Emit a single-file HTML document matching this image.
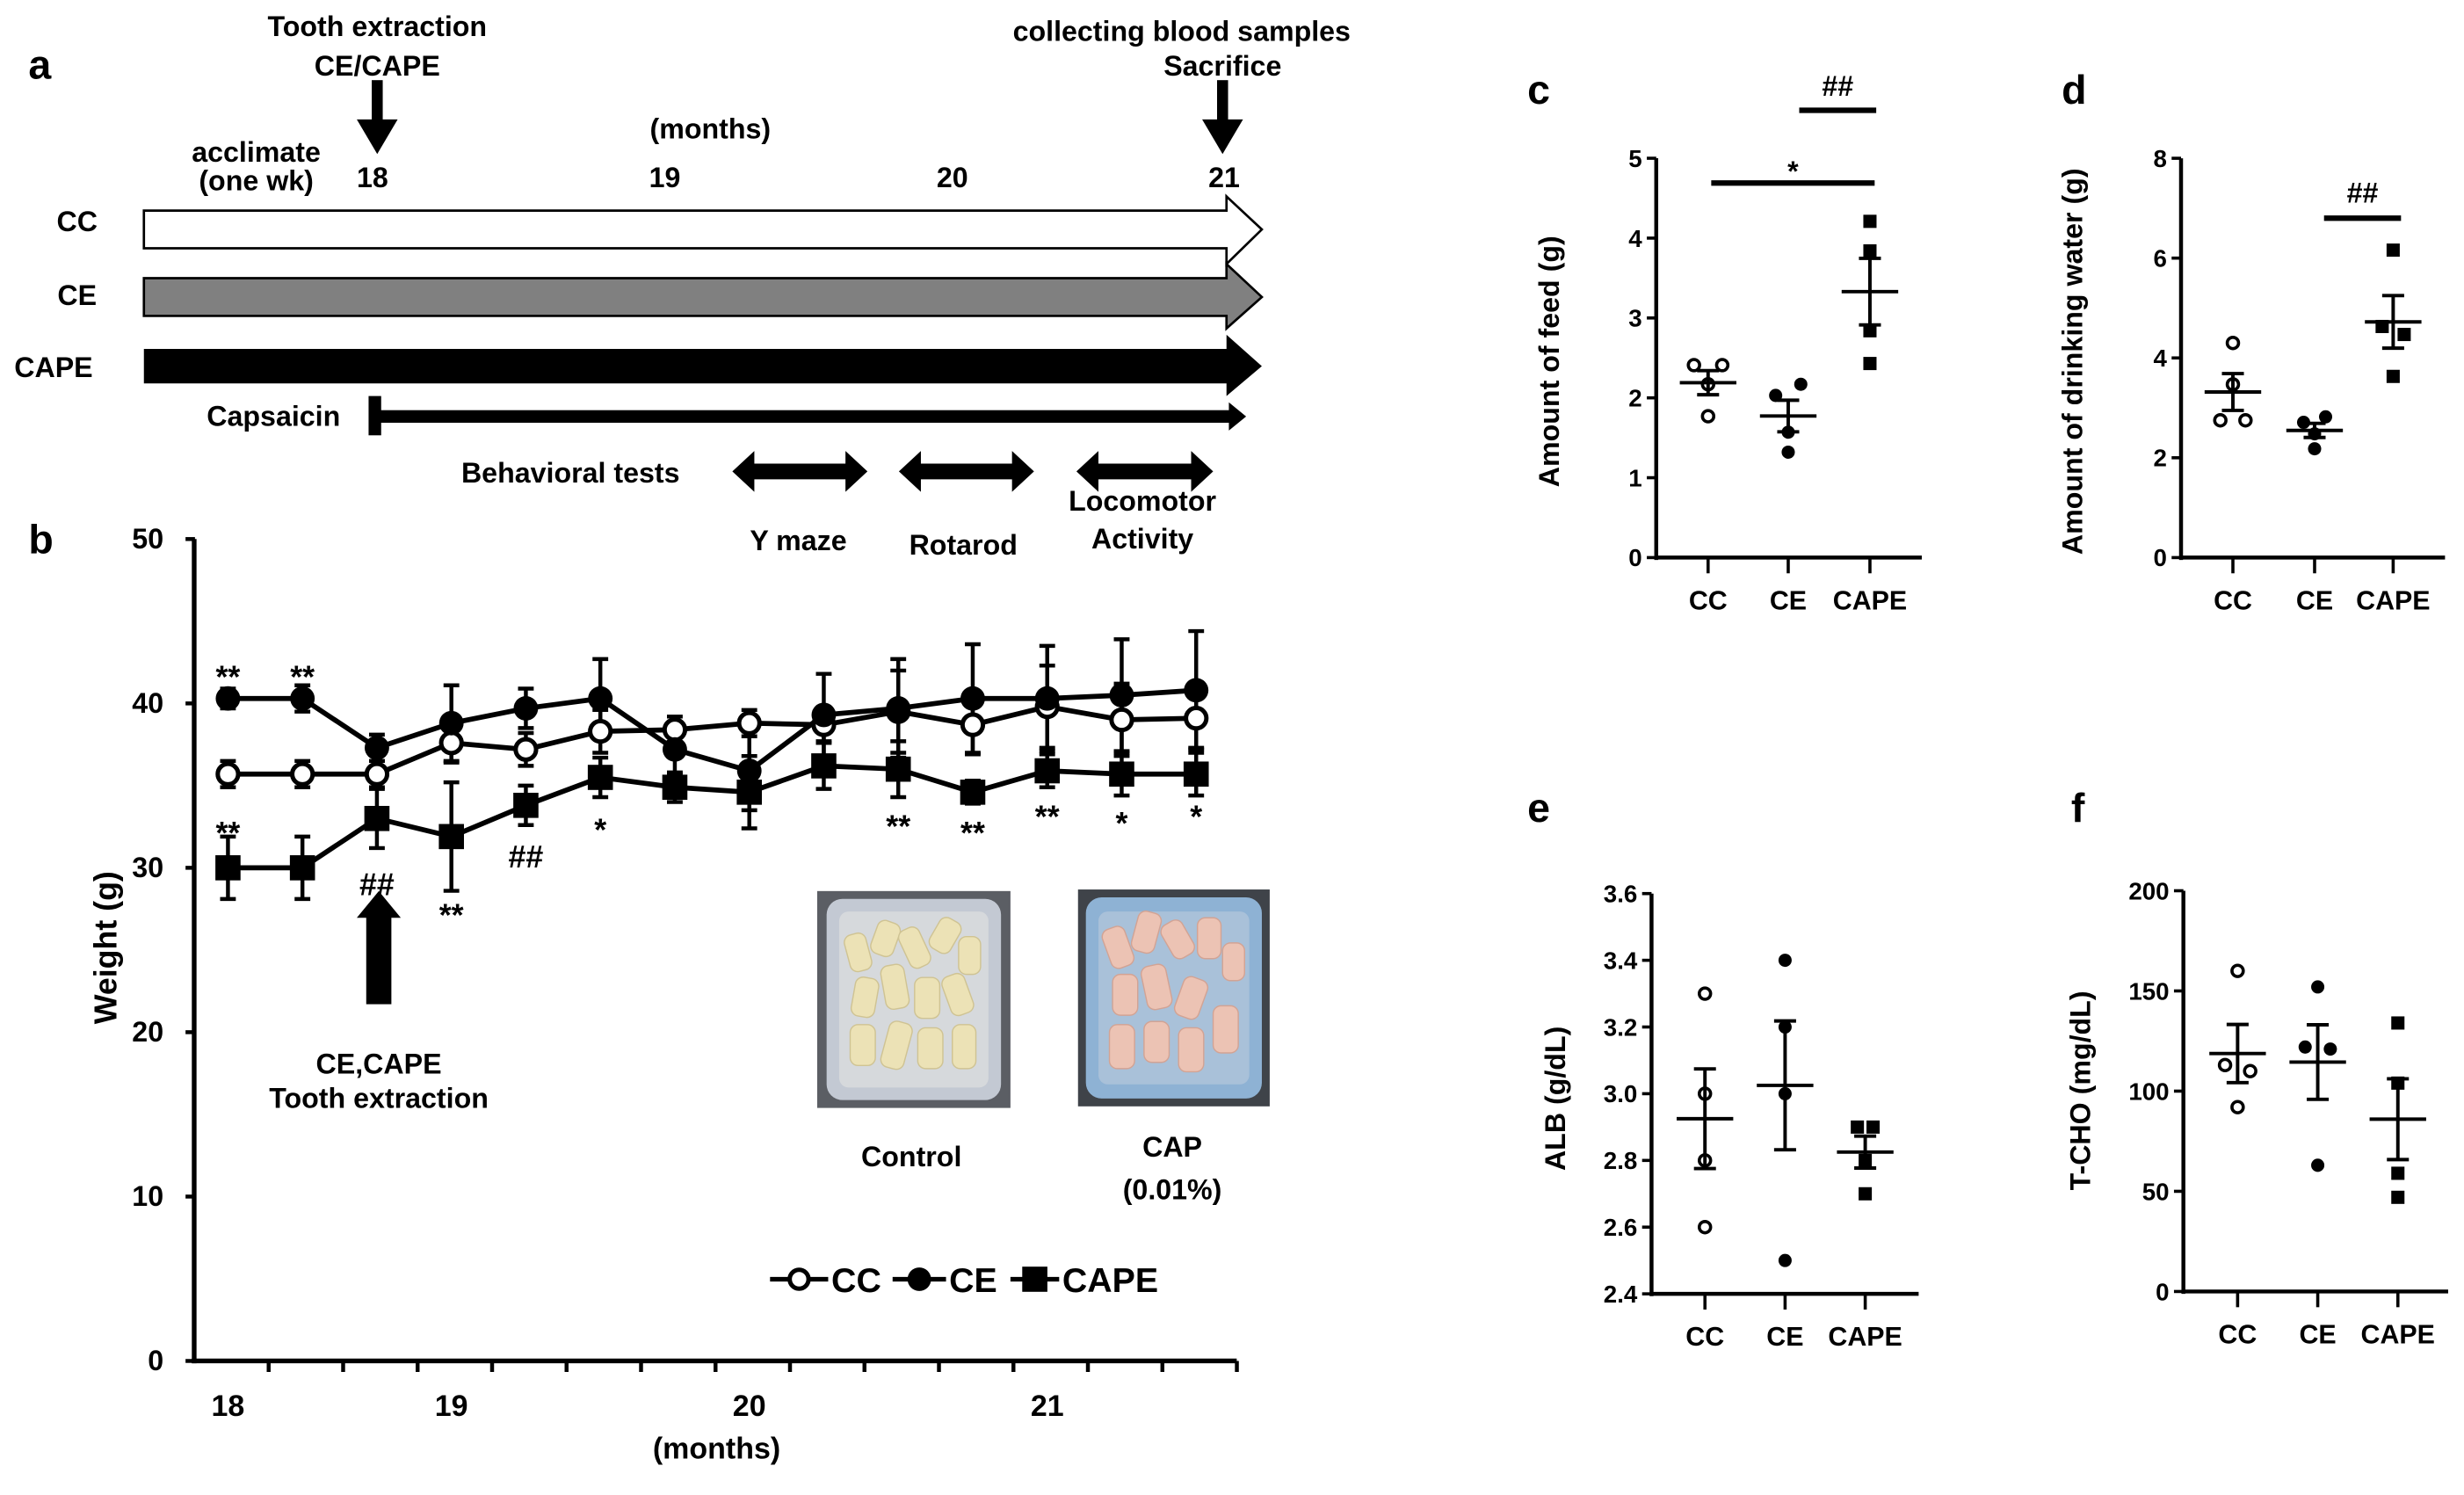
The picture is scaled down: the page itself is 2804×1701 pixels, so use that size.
<!DOCTYPE html>
<html><head><meta charset="utf-8"><style>
html,body{margin:0;padding:0;background:#fff;}
svg{display:block;font-family:"Liberation Sans",Arial,sans-serif;font-weight:bold;}
</style></head><body>
<svg id="fig" xmlns="http://www.w3.org/2000/svg" width="2804" height="1701" viewBox="0 0 1568 951.3">
<rect x="0" y="0" width="1568" height="951.3" fill="#fff"/>
<!-- Panel a -->
<g>
<text x="18" y="50" font-size="26">a</text>
<text x="240" y="23" font-size="18" text-anchor="middle">Tooth extraction</text>
<text x="240" y="48" font-size="18" text-anchor="middle">CE/CAPE</text>
<rect x="236.5" y="51" width="7" height="26" fill="#000"/>
<polygon points="227,76 253,76 240,98" fill="#000"/>
<text x="752" y="26" font-size="18" text-anchor="middle">collecting blood samples</text>
<text x="778" y="48" font-size="18" text-anchor="middle">Sacrifice</text>
<rect x="774.5" y="51" width="7" height="26" fill="#000"/>
<polygon points="765,76 791,76 778,98" fill="#000"/>
<text x="452" y="88" font-size="18" text-anchor="middle">(months)</text>
<text x="163" y="103" font-size="18" text-anchor="middle">acclimate</text>
<text x="163" y="121" font-size="18" text-anchor="middle">(one wk)</text>
<text x="237" y="119" font-size="18" text-anchor="middle">18</text>
<text x="423" y="119" font-size="18" text-anchor="middle">19</text>
<text x="606" y="119" font-size="18" text-anchor="middle">20</text>
<text x="779" y="119" font-size="18" text-anchor="middle">21</text>
<text x="49" y="147" font-size="18" text-anchor="middle">CC</text>
<text x="49" y="194" font-size="18" text-anchor="middle">CE</text>
<text x="34" y="240" font-size="18" text-anchor="middle">CAPE</text>
<polygon points="91.5,134 780.5,134 780.5,125 803,146 780.5,168 780.5,158 91.5,158" fill="#fff" stroke="#000" stroke-width="1.5"/>
<polygon points="91.5,177 780.5,177 780.5,168 803,189 780.5,209 780.5,201 91.5,201" fill="#808080" stroke="#000" stroke-width="1.5"/>
<polygon points="91.5,222 780.5,222 780.5,213 803,233 780.5,252 780.5,244 91.5,244" fill="#000"/>
<text x="174" y="271" font-size="18" text-anchor="middle">Capsaicin</text>
<rect x="234.5" y="252" width="8" height="25" fill="#000"/>
<rect x="240" y="261" width="544" height="8" fill="#000"/>
<polygon points="782,256 793,265 782,274" fill="#000"/>
<text x="363" y="307" font-size="18" text-anchor="middle">Behavioral tests</text>
<g><polygon points="466,300 480,287 480,295 538,295 538,287 552,300 538,313 538,305 480,305 480,313" fill="#000"/></g>
<g><polygon points="572,300 586,287 586,295 644,295 644,287 658,300 644,313 644,305 586,305 586,313" fill="#000"/></g>
<g><polygon points="685,300 699,287 699,295 758,295 758,287 772,300 758,313 758,305 699,305 699,313" fill="#000"/></g>
<text x="508" y="350" font-size="18" text-anchor="middle">Y maze</text>
<text x="613" y="353" font-size="18" text-anchor="middle">Rotarod</text>
<text x="727" y="325" font-size="18" text-anchor="middle">Locomotor</text>
<text x="727" y="349" font-size="18" text-anchor="middle">Activity</text>
</g>
<!-- Panel b static -->
<g id="pb">
<text x="18" y="352" font-size="26">b</text>
<text transform="translate(74,603) rotate(-90)" font-size="20" text-anchor="middle">Weight (g)</text>
<text x="456" y="928" font-size="19" text-anchor="middle">(months)</text>
<rect x="233" y="582" width="16" height="57" fill="#000"/>
<polygon points="227,584 255,584 241,567" fill="#000"/>
<text x="241" y="683" font-size="18" text-anchor="middle">CE,CAPE</text>
<text x="241" y="705" font-size="18" text-anchor="middle">Tooth extraction</text>
<g>
<rect x="520" y="567" width="123" height="138" fill="#5b5e64"/>
<rect x="526" y="572" width="111" height="128" rx="10" fill="#c3c9d3"/>
<rect x="534" y="580" width="95" height="112" rx="6" fill="#d6d9dc"/>
<g fill="#ece2b6" stroke="#cfc393" stroke-width="0.8">
<rect x="539" y="594" width="14" height="24" rx="5" transform="rotate(-15 546 606)"/>
<rect x="556" y="586" width="15" height="22" rx="5" transform="rotate(20 563 597)"/>
<rect x="575" y="590" width="14" height="26" rx="5" transform="rotate(-25 582 603)"/>
<rect x="594" y="584" width="15" height="22" rx="5" transform="rotate(30 601 595)"/>
<rect x="610" y="596" width="14" height="24" rx="5"/>
<rect x="543" y="622" width="15" height="25" rx="5" transform="rotate(10 550 634)"/>
<rect x="562" y="614" width="15" height="28" rx="5" transform="rotate(-10 569 628)"/>
<rect x="582" y="622" width="16" height="26" rx="5"/>
<rect x="602" y="620" width="15" height="26" rx="5" transform="rotate(-20 609 633)"/>
<rect x="541" y="652" width="16" height="26" rx="5"/>
<rect x="563" y="650" width="15" height="30" rx="5" transform="rotate(15 570 665)"/>
<rect x="584" y="654" width="16" height="26" rx="5"/>
<rect x="606" y="652" width="15" height="28" rx="5"/>
</g></g>
<g>
<rect x="686" y="566" width="122" height="138" fill="#3f4349"/>
<rect x="691" y="571" width="112" height="128" rx="10" fill="#8eb2d4"/>
<rect x="699" y="580" width="96" height="110" rx="6" fill="#a9c1d9"/>
<g fill="#ecc3b4" stroke="#d2a394" stroke-width="0.8">
<rect x="704" y="590" width="15" height="26" rx="5" transform="rotate(-20 711 603)"/>
<rect x="722" y="580" width="15" height="26" rx="5" transform="rotate(15 729 593)"/>
<rect x="742" y="586" width="15" height="24" rx="5" transform="rotate(-30 749 598)"/>
<rect x="762" y="584" width="15" height="26" rx="5"/>
<rect x="778" y="600" width="14" height="24" rx="5"/>
<rect x="708" y="620" width="16" height="26" rx="5"/>
<rect x="728" y="614" width="16" height="28" rx="5" transform="rotate(-12 736 628)"/>
<rect x="750" y="622" width="16" height="26" rx="5" transform="rotate(20 758 635)"/>
<rect x="706" y="652" width="16" height="28" rx="5"/>
<rect x="728" y="650" width="16" height="26" rx="5"/>
<rect x="750" y="654" width="16" height="28" rx="5"/>
<rect x="772" y="640" width="16" height="30" rx="5"/>
</g></g>
<text x="580" y="742" font-size="18" text-anchor="middle">Control</text>
<text x="746" y="736" font-size="18" text-anchor="middle">CAP</text>
<text x="746" y="763" font-size="18" text-anchor="middle">(0.01%)</text>
</g>
<g id="pc"></g>
<g id="pd"></g>
<g id="pe"></g>
<g id="pf"></g>
</svg>
<script>
// ---------- Panel b data ----------
const weightTickLabels = ['18', '19', '20', '21'];
const weightTickIndex = [0, 3, 7, 11];
const weightYTicks = [0, 10, 20, 30, 40, 50];
const ccWeight = [35.7, 35.7, 35.7, 37.6, 37.2, 38.3, 38.4, 38.8, 38.7, 39.5, 38.7, 39.8, 39.0, 39.1];
const ceWeight = [40.3, 40.3, 37.3, 38.8, 39.7, 40.3, 37.2, 35.9, 39.3, 39.7, 40.3, 40.3, 40.5, 40.8];
const capeWeight = [30.0, 30.0, 33.0, 31.9, 33.8, 35.5, 34.9, 34.6, 36.2, 36.0, 34.6, 35.9, 35.7, 35.7];
const ccErr = [0.8, 0.8, 0.8, 1.2, 1.0, 1.3, 0.8, 0.8, 1.0, 2.5, 1.8, 2.5, 2.2, 1.8];
const ceErr = [0.6, 0.8, 0.8, 2.3, 1.2, 2.4, 1.5, 2.4, 2.5, 3.0, 3.3, 3.2, 3.4, 3.6];
const capeErr = [1.9, 1.9, 1.8, 3.3, 1.2, 1.2, 0.9, 2.2, 1.4, 1.7, 0.7, 1.0, 1.3, 1.3];
const weightMarkText = ['**', '**', '**', '##', '**', '##', '*', '**', '**', '**', '*', '*'];
const weightMarkIndex = [0, 1, 0, 2, 3, 4, 5, 9, 10, 11, 12, 13];
const weightMarkValue = [42.1, 42.1, 32.6, 29.0, 27.6, 30.7, 32.8, 33.0, 32.6, 33.6, 33.2, 33.6];

// ---------- Panels c-f data ----------
const groupLabels = ['CC', 'CE', 'CAPE'];
const feedCC = [2.41, 2.41, 2.17, 1.77];
const feedCE = [2.03, 2.17, 1.57, 1.32];
const feedCAPE = [4.21, 3.84, 2.84, 2.43];
const feedTicks = [0, 1, 2, 3, 4, 5];
const waterCC = [4.30, 3.47, 2.75, 2.75];
const waterCE = [2.71, 2.82, 2.48, 2.18];
const waterCAPE = [6.16, 4.63, 4.47, 3.63];
const waterTicks = [0, 2, 4, 6, 8];
const albCC = [3.3, 3.0, 2.8, 2.6];
const albCE = [3.4, 3.2, 3.0, 2.5];
const albCAPE = [2.9, 2.9, 2.8, 2.7];
const albTicks = [2.4, 2.6, 2.8, 3.0, 3.2, 3.4, 3.6];
const tchoCC = [160, 113, 110, 92];
const tchoCE = [152, 122, 121, 63];
const tchoCAPE = [134, 104, 59, 47];
const tchoTicks = [0, 50, 100, 150, 200];

const NS = 'http://www.w3.org/2000/svg';
function mk(tag, attrs, parent) {
  const el = document.createElementNS(NS, tag);
  for (const k in attrs) el.setAttribute(k, attrs[k]);
  parent.appendChild(el);
  return el;
}

// ---------- Panel b drawing ----------
(function () {
  const g = document.getElementById('pb');
  const xB = i => 145 + 47.4 * i;
  const yB = v => 866 - v * 10.46;
  let el = mk('line', {x1: 123.5, y1: yB(50), x2: 123.5, y2: yB(0) + 1.5, stroke: '#000', 'stroke-width': 3}, g);
  
  
  el = mk('line', {x1: 122, y1: yB(0), x2: 787, y2: yB(0), stroke: '#000', 'stroke-width': 3}, g);
  
  
  weightYTicks.forEach(v => {
    const t = mk('line', {x1: 118, y1: yB(v), x2: 124, y2: yB(v), stroke: '#000', 'stroke-width': 2.5}, g);
    
    
    const l = mk('text', {x: 104, y: yB(v) + 6, 'font-size': 18, 'text-anchor': 'end'}, g);
    l.textContent = v;
    
    
  });
  for (let k = 1; k <= 14; k++) {
    const x = 123.5 + 47.4 * k;
    const t = mk('line', {x1: x, y1: yB(0), x2: x, y2: yB(0) + 7, stroke: '#000', 'stroke-width': 2.5}, g);
    
    
  }
  weightTickLabels.forEach((lab, j) => {
    const l = mk('text', {x: xB(weightTickIndex[j]), y: 901, 'font-size': 19, 'text-anchor': 'middle'}, g);
    l.textContent = lab;
    
    
  });
  const series = [
    {d: ccWeight, e: ccErr, n: 'cc'},
    {d: ceWeight, e: ceErr, n: 'ce'},
    {d: capeWeight, e: capeErr, n: 'cape'}
  ];
  series.forEach(s => {
    const p = mk('polyline', {points: s.d.map((v, i) => xB(i) + ',' + yB(v)).join(' '), fill: 'none', stroke: '#000', 'stroke-width': 3.2}, g);
    
    
  });
  series.forEach(s => {
    s.d.forEach((v, i) => {
      const x = xB(i);
      const eb = mk('path', {d: 'M' + x + ',' + yB(v - s.e[i]) + 'V' + yB(v + s.e[i]) + 'M' + (x - 5) + ',' + yB(v + s.e[i]) + 'H' + (x + 5) + 'M' + (x - 5) + ',' + yB(v - s.e[i]) + 'H' + (x + 5), stroke: '#000', 'stroke-width': 2.5, fill: 'none'}, g);
      
      
    });
  });
  capeWeight.forEach((v, i) => {
    const m = mk('rect', {x: xB(i) - 8, y: yB(v) - 8, width: 16, height: 16, fill: '#000'}, g);
    
    
  });
  ccWeight.forEach((v, i) => {
    const m = mk('circle', {cx: xB(i), cy: yB(v), r: 6.5, fill: '#fff', stroke: '#000', 'stroke-width': 2.8}, g);
    
    
  });
  ceWeight.forEach((v, i) => {
    const m = mk('circle', {cx: xB(i), cy: yB(v), r: 7.8, fill: '#000'}, g);
    
    
  });
  weightMarkText.forEach((t, j) => {
    const off = t === '##' ? 7 : 12;
    const l = mk('text', {x: xB(weightMarkIndex[j]), y: yB(weightMarkValue[j]) + off, 'font-size': 20, 'text-anchor': 'middle'}, g);
    l.textContent = t;
    
    
  });
  // legend
  const ly = 814;
  const leg = [
    {x: 490, n: 'CC', tx: 529}, {x: 568, n: 'CE', tx: 604}, {x: 643, n: 'CAPE', tx: 676}
  ];
  leg.forEach((e, j) => {
    const ln = mk('line', {x1: e.x, y1: ly, x2: e.tx - 2, y2: ly, stroke: '#000', 'stroke-width': 3}, g);
    
    
    const cx = (e.x + e.tx - 2) / 2;
    let m;
    if (j === 0) m = mk('circle', {cx: cx, cy: ly, r: 6, fill: '#fff', stroke: '#000', 'stroke-width': 2.8}, g);
    else if (j === 1) m = mk('circle', {cx: cx, cy: ly, r: 7.5, fill: '#000'}, g);
    else m = mk('rect', {x: cx - 8, y: ly - 8, width: 16, height: 16, fill: '#000'}, g);
    
    
    const t = mk('text', {x: e.tx, y: ly + 8, 'font-size': 22}, g);
    t.textContent = e.n;
    
    
  });
})();

// ---------- Dot plots ----------
function dotPlot(cfg) {
  const g = document.getElementById(cfg.id);
  const y = v => cfg.y0 - (v - cfg.vmin) * cfg.k;
  let t = mk('text', {x: cfg.letterX, y: cfg.letterY, 'font-size': 26}, g);
  t.textContent = cfg.letter;
  
  
  t = mk('text', {transform: 'translate(' + cfg.titleX + ',' + cfg.titleY + ') rotate(-90)', 'font-size': 18, 'text-anchor': 'middle'}, g);
  t.textContent = cfg.title;
  
  
  let a = mk('line', {x1: cfg.ax, y1: y(cfg.ticks[cfg.ticks.length - 1]), x2: cfg.ax, y2: cfg.y0 + 1.5, stroke: '#000', 'stroke-width': 2.5}, g);
  
  
  a = mk('line', {x1: cfg.ax - 1, y1: cfg.y0, x2: cfg.axEnd, y2: cfg.y0, stroke: '#000', 'stroke-width': 2.5}, g);
  
  
  cfg.ticks.forEach(v => {
    const tk = mk('line', {x1: cfg.ax - 6, y1: y(v), x2: cfg.ax, y2: y(v), stroke: '#000', 'stroke-width': 2}, g);
    
    
    const l = mk('text', {x: cfg.ax - 9, y: y(v) + 5.5, 'font-size': 15.5, 'text-anchor': 'end'}, g);
    l.textContent = cfg.fmt(v);
    
    
  });
  cfg.groups.forEach((d, gi) => {
    const cx = cfg.xs[gi];
    const tk = mk('line', {x1: cx, y1: cfg.y0, x2: cx, y2: cfg.y0 + 10, stroke: '#000', 'stroke-width': 2}, g);
    
    
    const l = mk('text', {x: cx, y: cfg.y0 + 33, 'font-size': 17, 'text-anchor': 'middle'}, g);
    l.textContent = groupLabels[gi];
    
    
    const mean = d.reduce((s, v) => s + v, 0) / d.length;
    const sd = Math.sqrt(d.reduce((s, v) => s + (v - mean) * (v - mean), 0) / (d.length - 1));
    const sem = sd / Math.sqrt(d.length);
    d.forEach((v, i) => {
      const px = cx + cfg.jitter[gi][i];
      let m;
      if (gi === 0) m = mk('circle', {cx: px, cy: y(v), r: 3.6, fill: '#fff', stroke: '#000', 'stroke-width': 2}, g);
      else if (gi === 1) m = mk('circle', {cx: px, cy: y(v), r: 4.2, fill: '#000'}, g);
      else m = mk('rect', {x: px - 4.2, y: y(v) - 4.2, width: 8.4, height: 8.4, fill: '#000'}, g);
      
      
    });
    const p = mk('path', {d: 'M' + (cx - 18) + ',' + y(mean) + 'H' + (cx + 18) + 'M' + cx + ',' + y(mean - sem) + 'V' + y(mean + sem) + 'M' + (cx - 7) + ',' + y(mean + sem) + 'H' + (cx + 7) + 'M' + (cx - 7) + ',' + y(mean - sem) + 'H' + (cx + 7), stroke: '#000', 'stroke-width': 2.2, fill: 'none'}, g);
    
    
  });
  cfg.sig.forEach(s => {
    const ln = mk('line', {x1: s.x1, y1: y(s.v), x2: s.x2, y2: y(s.v), stroke: '#000', 'stroke-width': 3.5}, g);
    
    
    const tx = mk('text', {x: (s.x1 + s.x2) / 2, y: y(s.tv) + (s.t === '*' ? 11 : 7), 'font-size': 18, 'text-anchor': 'middle'}, g);
    tx.textContent = s.t;
    
    
  });
}

dotPlot({id: 'pc', letter: 'c', letterX: 972, letterY: 66, title: 'Amount of feed (g)', titleX: 992, titleY: 230,
  ax: 1054, axEnd: 1223, y0: 354.8, vmin: 0, k: 50.82, ticks: feedTicks, fmt: v => String(v),
  xs: [1087, 1138, 1190], groups: [feedCC, feedCE, feedCAPE],
  jitter: [[-9, 9, 0, 0], [-8, 8, 0, 0], [0, 0, 0, 0]],
  sig: [{x1: 1089, x2: 1193, v: 4.69, tv: 4.93, t: '*'}, {x1: 1145, x2: 1194, v: 5.6, tv: 5.92, t: '##'}]});
dotPlot({id: 'pd', letter: 'd', letterX: 1312, letterY: 66, title: 'Amount of drinking water (g)', titleX: 1325, titleY: 230,
  ax: 1388, axEnd: 1556, y0: 354.8, vmin: 0, k: 31.76, ticks: waterTicks, fmt: v => String(v),
  xs: [1421, 1473, 1523], groups: [waterCC, waterCE, waterCAPE],
  jitter: [[0, 0, -8, 8], [-7, 7, 0, 0], [0, -7, 7, 0]],
  sig: [{x1: 1479, x2: 1528, v: 6.8, tv: 7.33, t: '##'}]});
dotPlot({id: 'pe', letter: 'e', letterX: 972, letterY: 523, title: 'ALB (g/dL)', titleX: 996, titleY: 699,
  ax: 1051, axEnd: 1221, y0: 823.3, vmin: 2.4, k: 212.25, ticks: albTicks, fmt: v => v.toFixed(1),
  xs: [1085, 1136, 1187], groups: [albCC, albCE, albCAPE],
  jitter: [[0, 0, 0, 0], [0, 0, 0, 0], [-5, 5, 0, 0]],
  sig: []});
dotPlot({id: 'pf', letter: 'f', letterX: 1318, letterY: 523, title: 'T-CHO (mg/dL)', titleX: 1330, titleY: 694,
  ax: 1389.5, axEnd: 1558, y0: 821.8, vmin: 0, k: 1.275, ticks: tchoTicks, fmt: v => String(v),
  xs: [1424, 1475, 1526], groups: [tchoCC, tchoCE, tchoCAPE],
  jitter: [[0, -8, 8, 0], [0, -8, 8, 0], [0, 0, 0, 0]],
  sig: []});
</script>
</body></html>
